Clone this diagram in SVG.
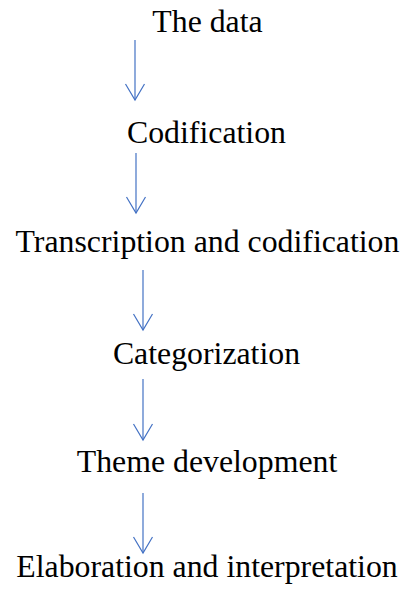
<svg xmlns="http://www.w3.org/2000/svg" width="403" height="591" viewBox="0 0 403 591">
<style>
.lbl{font-family:'Liberation Serif',serif;font-size:31.8px;fill:#000;text-anchor:middle}
.con{stroke:#4472C4;stroke-width:1.2;fill:none}
</style>
<defs>
<marker id="ah" markerUnits="userSpaceOnUse" markerWidth="40" markerHeight="40" viewBox="-20 -20 40 40" refX="0" refY="0" orient="auto" overflow="visible">
<path d="M-16,-9.5 L0,0 L-16,9.5" stroke="#4472C4" stroke-width="1.2" fill="none"/>
</marker>
</defs>
<rect width="403" height="591" fill="#fff"/>
<g id="connectors">
<line class="con" x1="135" y1="40" x2="135" y2="100" marker-end="url(#ah)"/>
<line class="con" x1="136" y1="153" x2="136" y2="213" marker-end="url(#ah)"/>
<line class="con" x1="143" y1="270" x2="143" y2="330" marker-end="url(#ah)"/>
<line class="con" x1="143" y1="379" x2="143" y2="440" marker-end="url(#ah)"/>
<line class="con" x1="143" y1="493" x2="143" y2="553" marker-end="url(#ah)"/>
</g>
<g id="n1"><text class="lbl" x="207.5" y="32">The data</text></g>
<g id="n2"><text class="lbl" x="206.5" y="143">Codification</text></g>
<g id="n3"><text class="lbl" x="207.5" y="252">Transcription and codification</text></g>
<g id="n4"><text class="lbl" x="206.5" y="364">Categorization</text></g>
<g id="n5"><text class="lbl" x="207" y="472">Theme development</text></g>
<g id="n6"><text class="lbl" x="207" y="577">Elaboration and interpretation</text></g>
</svg>
